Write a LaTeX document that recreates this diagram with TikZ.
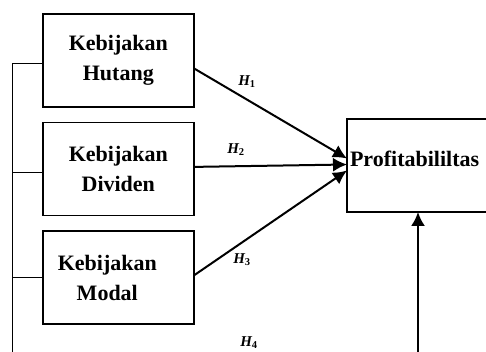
\documentclass[tikz,border=0pt]{standalone}
\usepackage{fontspec}
\setmainfont{Liberation Serif}
\usetikzlibrary{matrix, positioning, arrows.meta}
\tikzset{
  layout/.style={
    matrix of nodes,
    row sep=14pt,
    inner sep=0pt,
    outer sep=0pt,
    nodes={rectangle, draw=black, line width=1.6pt, align=center,
      text width=145pt, inner xsep=3pt, inner ysep=3pt, outer sep=0pt,
      minimum height=93pt, font=\fontsize{22}{30}\selectfont\bfseries},
  },
  target/.style={
    rectangle, draw=black, line width=1.6pt, align=left,
    text width=150pt, inner xsep=3pt, outer sep=0pt,
    minimum height=93pt, text depth=13pt, anchor=north west,
    font=\fontsize{22}{30}\selectfont\bfseries
  },
  link/.style={line width=0.9pt},
  hyp/.style={line width=2pt, -{Latex[length=14pt,width=14pt]}},
  up/.style={line width=2pt, -{Latex[length=14pt,width=14pt]}},
  hlabel/.style={font=\fontsize{15}{17}\selectfont\bfseries\itshape, inner sep=0pt}
}
\begin{document}
\begin{tikzpicture}[x=1pt, y=-1pt]
  \useasboundingbox (0,0) rectangle (486,352);
  \clip (0,0) rectangle (486,352);
  \matrix (vars) [layout, anchor=north west] at (42,13) {
    \node(vars-1-1){Kebijakan\\Hutang}; \\
    \node(vars-2-1){Kebijakan\\Dividen}; \\
    \node(vars-3-1){Kebijakan\hspace{22pt}\null\\Modal\hspace{22pt}\null}; \\
  };
  \node[target] (profit) at (347,119) {Profitabililtas};
  % ends cut off by the lower edge
  \coordinate (bl) at (12,352);
  \coordinate (br) at (418,352);
  \draw[link] ([yshift=-3pt]vars-1-1.west) -| (bl);
  \draw[link] ([yshift=-4pt]vars-2-1.west) -- ([yshift=-4pt]vars-2-1.west -| bl);
  \draw[link] (vars-3-1.west) -- (vars-3-1.west -| bl);
  \draw[hyp] ([yshift=-8pt]vars-1-1.east) -- ([yshift=7pt]profit.west);
  \draw[hyp] ([yshift=2pt]vars-2-1.east) -- ([yshift=1pt]profit.west);
  \draw[hyp] ([yshift=2pt]vars-3-1.east) -- ([yshift=-5pt]profit.west);
  \draw[up] (br) -- (br |- profit.south);
  \node[hlabel] (h1) at (247,82) {H\textsubscript{\upshape 1}};
  \node[hlabel] (h2) at (236,150) {H\textsubscript{\upshape 2}};
  \node[hlabel] (h3) at (242,260) {H\textsubscript{\upshape 3}};
  \node[hlabel] (h4) at (249,343) {H\textsubscript{\upshape 4}};
\end{tikzpicture}
\end{document}
